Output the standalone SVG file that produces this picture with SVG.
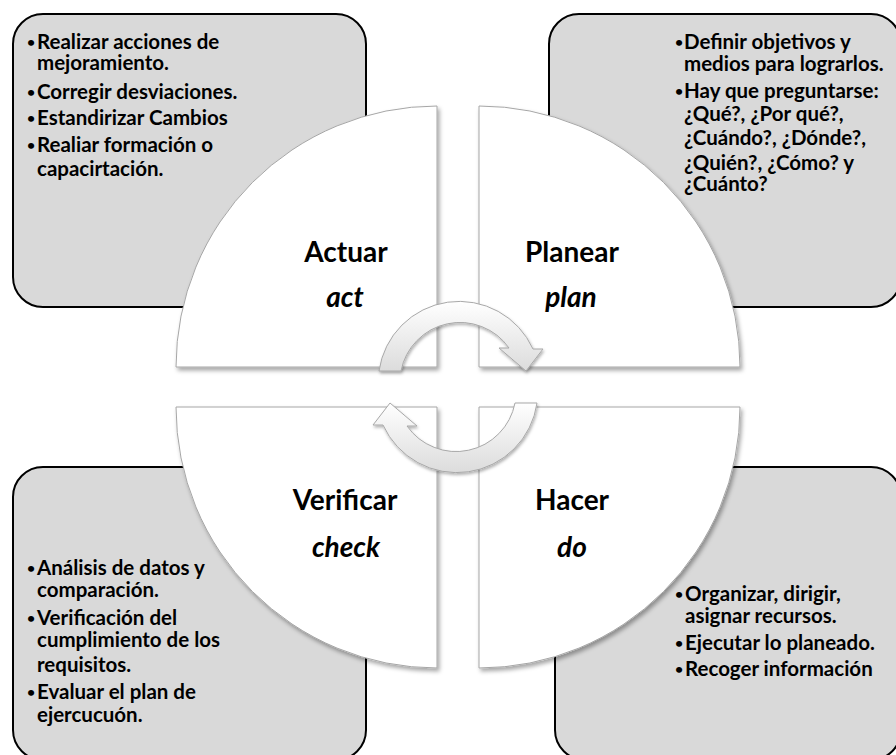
<svg xmlns="http://www.w3.org/2000/svg" width="896" height="755" viewBox="0 0 896 755">
<defs>
<style>
.box{fill:#d9d9d9;stroke:#000;stroke-width:2}
.sec{fill:#fff;stroke:#a6a6a6;stroke-width:1;filter:url(#sh)}
.arr{fill:url(#ag);stroke:#a8a8a8;stroke-width:1;filter:url(#sh2)}
.t{font-family:Lato,"Open Sans","Liberation Sans",sans-serif;font-weight:bold;font-size:20.5px;fill:#000}
.b{font-size:14px}
.h{font-family:Lato,"Open Sans","Liberation Sans",sans-serif;font-weight:bold;font-size:28px;fill:#000;text-anchor:middle}
.i{font-style:italic}
</style>
<filter id="sh" x="-10%" y="-10%" width="125%" height="125%">
<feDropShadow dx="2" dy="3" stdDeviation="2" flood-color="#000" flood-opacity="0.35"/>
</filter>
<filter id="sh2" x="-20%" y="-20%" width="140%" height="140%">
<feDropShadow dx="1" dy="2" stdDeviation="1.5" flood-color="#000" flood-opacity="0.3"/>
</filter>
<linearGradient id="ag" x1="0" y1="0" x2="0" y2="1">
<stop offset="0" stop-color="#ffffff"/>
<stop offset="1" stop-color="#dcdcdc"/>
</linearGradient>
</defs>
<rect width="896" height="755" fill="#fff"/>

<g id="box-actuar">
<rect class="box" x="13" y="14" width="353" height="293" rx="30" ry="30"/>
<text class="t" y="49"><tspan class="b" x="27" dy="-2">•</tspan><tspan x="37" dy="2">Realizar acciones de</tspan></text>
<text class="t" x="37" y="70">mejoramiento.</text>
<text class="t" y="99"><tspan class="b" x="27" dy="-2">•</tspan><tspan x="37" dy="2">Corregir desviaciones.</tspan></text>
<text class="t" y="125"><tspan class="b" x="27" dy="-2">•</tspan><tspan x="37" dy="2">Estandirizar Cambios</tspan></text>
<text class="t" y="152"><tspan class="b" x="27" dy="-2">•</tspan><tspan x="37" dy="2">Realiar formación o</tspan></text>
<text class="t" x="37" y="176">capacirtación.</text>
</g>

<g id="box-planear">
<rect class="box" x="549" y="14" width="352" height="293" rx="30" ry="30"/>
<text class="t" y="49"><tspan class="b" x="675" dy="-2">•</tspan><tspan x="684" dy="2">Definir objetivos y</tspan></text>
<text class="t" x="684" y="71">medios para lograrlos.</text>
<text class="t" y="98"><tspan class="b" x="675" dy="-2">•</tspan><tspan x="684" dy="2">Hay que preguntarse:</tspan></text>
<text class="t" x="684" y="121">¿Qué?, ¿Por qué?,</text>
<text class="t" x="684" y="145">¿Cuándo?, ¿Dónde?,</text>
<text class="t" x="684" y="170">¿Quién?, ¿Cómo? y</text>
<text class="t" x="684" y="191">¿Cuánto?</text>
</g>

<g id="box-verificar">
<rect class="box" x="13" y="467" width="353" height="293" rx="30" ry="30"/>
<text class="t" y="575"><tspan class="b" x="27" dy="-2">•</tspan><tspan x="37" dy="2">Análisis de datos y</tspan></text>
<text class="t" x="37" y="597">comparación.</text>
<text class="t" y="625"><tspan class="b" x="27" dy="-2">•</tspan><tspan x="37" dy="2">Verificación del</tspan></text>
<text class="t" x="37" y="647">cumplimiento de los</text>
<text class="t" x="37" y="672">requisitos.</text>
<text class="t" y="699"><tspan class="b" x="27" dy="-2">•</tspan><tspan x="37" dy="2">Evaluar el plan de</tspan></text>
<text class="t" x="37" y="722">ejercucuón.</text>
</g>

<g id="box-hacer">
<rect class="box" x="555" y="467" width="346" height="293" rx="30" ry="30"/>
<text class="t" y="601"><tspan class="b" x="675" dy="-2">•</tspan><tspan x="685" dy="2">Organizar, dirigir,</tspan></text>
<text class="t" x="685" y="623">asignar recursos.</text>
<text class="t" y="650"><tspan class="b" x="675" dy="-2">•</tspan><tspan x="685" dy="2">Ejecutar lo planeado.</tspan></text>
<text class="t" y="676"><tspan class="b" x="675" dy="-2">•</tspan><tspan x="685" dy="2">Recoger información</tspan></text>
</g>

<g id="actuar">
<path class="sec" d="M437 367 L176 367 A261 261 0 0 1 437 106 Z"/>
<text class="h" x="346" y="262">Actuar</text>
<text class="h i" x="345" y="307">act</text>
</g>
<g id="planear">
<path class="sec" d="M479 367 L479 106 A261 261 0 0 1 740 367 Z"/>
<text class="h" x="572" y="262">Planear</text>
<text class="h i" x="571" y="307">plan</text>
</g>
<g id="verificar">
<path class="sec" d="M437 407 L437 668 A261 261 0 0 1 176 407 Z"/>
<text class="h" x="345" y="510">Verificar</text>
<text class="h i" x="346" y="557">check</text>
</g>
<g id="hacer">
<path class="sec" d="M479 407 L740 407 A261 261 0 0 1 479 668 Z"/>
<text class="h" x="572" y="510">Hacer</text>
<text class="h i" x="572" y="557">do</text>
</g>

<g id="connectors">
<path class="arr" d="M379 371 A81 81 0 0 1 533 349 L543 349 L526 371 L499 348 L509 348 A60 60 0 0 0 401 371 Z"/>
<path class="arr" d="M537 403 A81 81 0 0 1 383 425 L373 425 L390 403 L417 426 L407 426 A60 60 0 0 0 515 403 Z"/>
</g>
</svg>
